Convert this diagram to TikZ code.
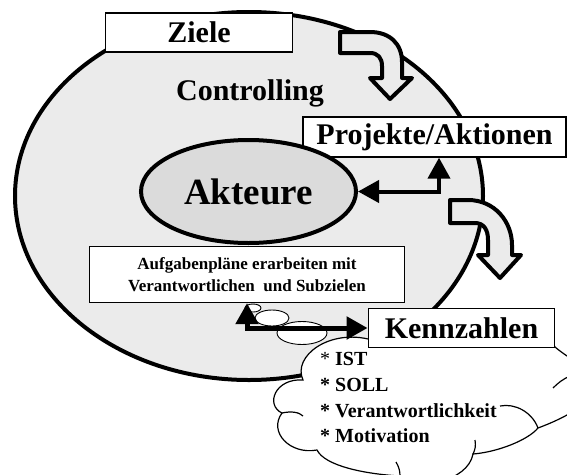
\documentclass[tikz,border=0pt]{standalone}
\usepackage{fontspec}
\setmainfont{Liberation Serif}
\usetikzlibrary{shapes.geometric,arrows.meta}

\definecolor{ctrlgray}{gray}{0.92}
\definecolor{actgray}{gray}{0.86}

\tikzset{
  bigoval/.style={ellipse,draw,line width=4pt,fill=ctrlgray,inner sep=0pt},
  actoval/.style={ellipse,draw,line width=4pt,fill=actgray,inner sep=0pt,font=\bfseries\fontsize{37}{40}\selectfont},
  labelbox/.style={rectangle,draw,fill=white,line width=1.3pt,inner sep=0pt,font=\bfseries\fontsize{30}{36}\selectfont},
  bubble/.style={ellipse,draw,fill=white,line width=0.9pt,inner sep=0pt},
  linkarrow/.style={line width=4pt,>={Triangle[length=21pt,width=22pt]},<->},
  bendarrow/.style={draw,line width=4pt,fill=ctrlgray,line join=round},
  cloudline/.style={line width=1.2pt},
  listfont/.style={font=\bfseries\fontsize{20}{24}\selectfont,inner sep=0pt,anchor=base west}
}

\begin{document}
\begin{tikzpicture}[x=1pt,y=-1pt]
        \useasboundingbox (0,0) rectangle (567,474);
        \clip (0,0) rectangle (567,474);

        %CONTROLLING
        \node[bigoval,minimum width=468pt,minimum height=368pt] (ctrl) at (249,196) {};
        \node[font=\bfseries\fontsize{30}{36}\selectfont,anchor=base] (ctrltxt) at (250,100) {Controlling};

        %BENT ARROWS
        \draw[bendarrow] (340,32) -- (370,32) .. controls (390,32) and (402,44) .. (402,62) -- (402,78) -- (412,78)
            -- (390,99) -- (370,78) -- (382,78) -- (382,66) .. controls (382,58) and (378,53) .. (370,53) -- (340,53) -- cycle;
        \draw[bendarrow] (450,200) -- (468,200) .. controls (495,200) and (512,222) .. (512,245) -- (512,255) -- (521,255)
            -- (500,278) -- (478,255) -- (488,255) -- (488,240) .. controls (488,230) and (484,223) .. (475,223) -- (450,223) -- cycle;

        %BOXES
        \node[labelbox,minimum width=187pt,minimum height=39pt] (ziele) at (199,32.5) {Ziele};
        \node[labelbox,minimum width=263pt,minimum height=40pt] (proj) at (434.5,137) {Projekte/Aktionen};
        \node[actoval,minimum width=215pt,minimum height=103pt] (akt) at (248.5,191.5) {Akteure};
        \node[labelbox,minimum width=315pt,minimum height=56pt,align=center,
              font=\bfseries\fontsize{17}{22}\selectfont] (aufg) at (247,274.5)
              {Aufgabenpläne erarbeiten mit\\Verantwortlichen\ \ und Subzielen};

        %CLOUD
        \draw[cloudline,fill=white] (303,380) .. controls (292,356) and (330,328) .. (372,340)
            .. controls (385,312) and (455,312) .. (468,334)
            .. controls (490,315) and (545,322) .. (555,347)
            .. controls (570,360) and (592,368) .. (588,385)
            .. controls (600,400) and (565,418) .. (538,428)
            .. controls (528,440) and (498,452) .. (473,454)
            .. controls (468,482) and (415,492) .. (400,476)
            .. controls (365,474) and (325,466) .. (317,450)
            .. controls (290,455) and (268,432) .. (282,413)
            .. controls (265,405) and (275,378) .. (303,380) -- cycle;
        \draw[cloudline] (553,388) .. controls (558,383) and (563,379) .. (570,376);
        \draw[cloudline] (500,406) .. controls (515,403) and (532,412) .. (538,428);
        \draw[cloudline] (475,440) .. controls (476,446) and (475,450) .. (473,454);
        \draw[cloudline] (396,462) .. controls (399,467) and (400,471) .. (400,476);
        \draw[cloudline] (282,413) .. controls (291,411) and (299,412) .. (303,416);

        \node[listfont] (ist) at (320,365) {{\mdseries*} IST};
        \node[listfont] (soll) at (320,391) {* SOLL};
        \node[listfont] (verant) at (320,417) {* Verantwortlichkeit};
        \node[listfont] (motiv) at (320,442) {* Motivation};

        %BUBBLES
        \node[bubble,minimum width=50pt,minimum height=23pt] (bub3) at (302,333) {};
        \node[bubble,minimum width=34pt,minimum height=16pt] (bub2) at (272,318) {};
        \node[bubble,minimum width=16pt,minimum height=8pt] (bub1) at (253,308) {};

        \node[labelbox,line width=1.8pt,minimum width=186pt,minimum height=39pt] (kenn) at (461.5,328) {Kennzahlen};

        %LINKS
        \draw[linkarrow] (akt.east) -| ([xshift=4.5pt]proj.south);
        \draw[linkarrow,line width=5pt] (aufg.south) |- (kenn.west);
\end{tikzpicture}
\end{document}
